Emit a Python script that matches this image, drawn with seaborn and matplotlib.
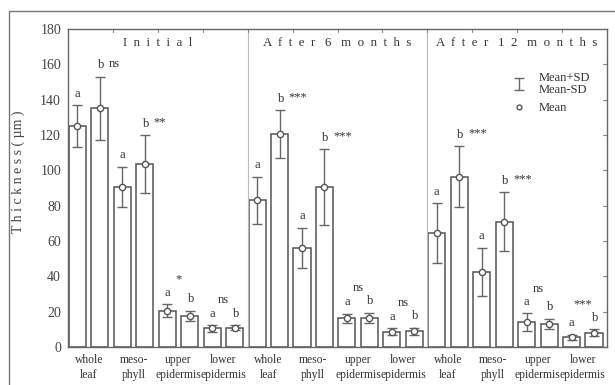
import numpy as np
import pandas as pd
import matplotlib
matplotlib.use("Agg")
import matplotlib.pyplot as plt
from matplotlib.patches import Rectangle
from matplotlib.lines import Line2D
import seaborn as sns

# data
periods = ["Initial", "After 6 months", "After 12 months"]
tissues = ["whole\nleaf", "meso-\nphyll", "upper\nepidermis", "lower\nepidermis"]
groups = ["a", "b"]
means = [125, 135, 90.5, 103.5, 20.5, 17.5, 10.5, 11,
         83, 120.5, 56, 90.5, 16.2, 16.5, 8.7, 9,
         64.5, 96.5, 42.5, 71, 14, 13, 5.5, 8]
sds = [12, 18, 11.5, 16.5, 3.8, 3, 2, 1.5,
       13.5, 13.5, 11.5, 21.5, 2.6, 3, 2, 2,
       17, 17, 13.7, 16.5, 5, 3, 1.5, 2]
signif = ["ns", "**", "*", "ns",
          "***", "***", "ns", "ns",
          "***", "***", "ns", "***"]

rows = []
for p in periods:
    for t in tissues:
        for g in groups:
            rows.append((p, t, g))
df = pd.DataFrame(rows, columns=["period", "tissue", "group"])
df["mean"] = means
df["sd"] = sds
df["key"] = [f"{i:02d}" for i in range(len(df))]

sns.set_style("white")
plt.rcParams["font.family"] = ["Liberation Serif", "DejaVu Serif"]

fig = plt.figure(figsize=(6.15, 3.85), dpi=100)
ax = fig.add_axes([0.1106, 0.0987, 0.8764, 0.826])

edge = "#555555"
txt = "#333333"
sns.barplot(data=df, x="key", y="mean", order=list(df.key), color="white",
            edgecolor=edge, linewidth=1.1, width=0.76, errorbar=None, ax=ax)
for p in ax.patches:
    p.set_facecolor("white")

xs = np.arange(len(df))
eb = ax.errorbar(xs, df["mean"], yerr=df["sd"], fmt="none",
                 ecolor="#666666", elinewidth=1.0, capsize=3.5, capthick=1.0)
ax.plot(xs, df["mean"], ls="none", marker="o", ms=4.5, mfc="white",
        mec=edge, mew=1.0)

ax.set_xlim(-0.42, 23.58)
ax.set_ylim(0, 180)
ax.set_yticks(range(0, 181, 20))

# panel separators
for b in [7.58, 15.58]:
    ax.axvline(b, color="#bbbbbb", lw=0.8)

# x tick labels between pairs
ax.set_xticks(np.arange(0.5, 24, 2))
ax.set_xticklabels(tissues * 3, fontsize=8.4, linespacing=1.3, color=txt)
ax.tick_params(axis="x", length=0, pad=5)
ax.tick_params(axis="y", labelsize=10, labelcolor="#444444", length=3,
               color="#777777", direction="in", pad=5)
ax.set_xlabel("")
ax.set_ylabel("T h i c k n e s s ( µm )", fontsize=10, color="#444444")
ax.yaxis.set_label_coords(-0.08, 0.55)

# top minor ticks at group boundaries, right ticks
for b in np.arange(1.58, 23, 2):
    ax.plot([b, b], [180, 178.2], color="#888888", lw=0.8, clip_on=False)
for yv in range(20, 180, 20):
    ax.plot([23.58, 23.4], [yv, yv], color="#888888", lw=0.8, clip_on=False)

for s in ax.spines.values():
    s.set_color("#666666")
    s.set_linewidth(1.0)

# panel titles, letter-spaced
for i, p in enumerate(periods):
    spaced = "   ".join("  ".join(w) for w in p.split(" "))
    ax.text(i * 8 + 3.58, 172, spaced, ha="center", va="center",
            fontsize=9.3, color=txt)

# letters and significance
fs = 9
for k in range(12):
    ia, ib = 2 * k, 2 * k + 1
    ta = means[ia] + sds[ia] + 3
    tb = means[ib] + sds[ib] + 3
    ax.text(ia, ta, "a", ha="center", va="bottom", fontsize=fs, color=txt)
    ax.text(ib + 0.05, tb, "b", ha="center", va="bottom", fontsize=fs, color=txt)
    if k % 4 < 2:
        ax.text(ib + 0.4, tb + 0.8, signif[k], ha="left", va="bottom",
                fontsize=fs, color=txt)
    else:
        ax.text(ia + 0.5, max(ta, tb) + 7.5, signif[k], ha="center",
                va="bottom", fontsize=fs, color=txt)

# legend
mk = Line2D([], [], ls="none", marker="o", ms=3.5, mfc="white", mec=edge)
leg = ax.legend([eb, mk], ["Mean+SD\nMean-SD", "Mean"], loc="upper right",
                bbox_to_anchor=(0.99, 0.9), frameon=False, fontsize=9,
                handlelength=1.6, labelspacing=0.5)
for t in leg.get_texts():
    t.set_color(txt)
    t.set_linespacing(1.0)

# outer frame
fig.patches.append(Rectangle((9 / 615, -0.1), 1.2, (385 - 11) / 385 + 0.1,
                             transform=fig.transFigure, fill=False,
                             edgecolor="#777777", lw=1.0))

fig.savefig("out.png", dpi=100)
